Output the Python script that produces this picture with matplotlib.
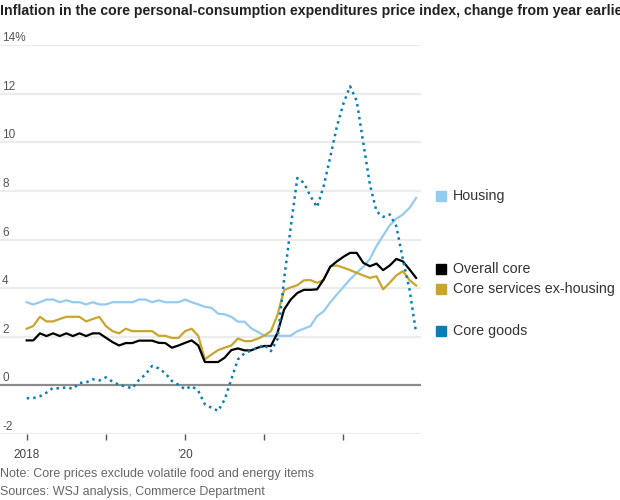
import matplotlib.pyplot as plt
from matplotlib.transforms import blended_transform_factory

# monthly, Jan 2018 - Dec 2022 (year-over-year % change)
months = list(range(60))

housing = [3.42, 3.33, 3.42, 3.53, 3.53, 3.42, 3.50, 3.42, 3.42, 3.33,
           3.42, 3.33, 3.33, 3.42, 3.42, 3.42, 3.42, 3.53, 3.53, 3.42,
           3.50, 3.42, 3.42, 3.42, 3.53, 3.42, 3.33, 3.23, 3.19, 2.95,
           2.92, 2.82, 2.62, 2.62, 2.35, 2.20, 2.04, 2.04, 2.04, 2.04,
           2.04, 2.23, 2.33, 2.44, 2.85, 3.05, 3.42, 3.74, 4.05, 4.36,
           4.63, 4.88, 5.20, 5.73, 6.16, 6.58, 6.85, 7.03, 7.30, 7.71]

overall_core = [1.85, 1.85, 2.14, 2.03, 2.14, 2.03, 2.14, 2.03, 2.14, 2.03,
                2.14, 2.14, 1.96, 1.78, 1.64, 1.74, 1.74, 1.84, 1.84, 1.84,
                1.75, 1.74, 1.55, 1.64, 1.75, 1.85, 1.64, 0.96, 0.96, 0.96,
                1.14, 1.45, 1.52, 1.44, 1.44, 1.55, 1.62, 1.62, 2.16, 3.12,
                3.53, 3.80, 3.93, 3.93, 3.95, 4.36, 4.88, 5.10, 5.29, 5.45,
                5.45, 5.04, 4.90, 5.01, 4.74, 4.93, 5.20, 5.10, 4.77, 4.42]

services_ex_housing = [2.33, 2.44, 2.82, 2.63, 2.63, 2.73, 2.82, 2.82, 2.82, 2.63,
                       2.73, 2.82, 2.44, 2.23, 2.14, 2.33, 2.23, 2.23, 2.23, 2.23,
                       2.04, 2.04, 1.95, 1.95, 2.23, 2.33, 2.03, 1.07, 1.27, 1.45,
                       1.55, 1.64, 1.93, 1.82, 1.82, 1.92, 2.05, 2.23, 2.90, 3.92,
                       4.03, 4.12, 4.32, 4.33, 4.22, 4.33, 4.90, 4.93, 4.84, 4.74,
                       4.63, 4.52, 4.42, 4.49, 3.95, 4.22, 4.52, 4.70, 4.33, 4.11]

core_goods = [-0.53, -0.52, -0.45, -0.30, -0.10, -0.13, -0.08, -0.14, 0.10, 0.12,
              0.25, 0.20, 0.33, 0.15, 0.02, -0.05, -0.12, 0.22, 0.45, 0.80,
              0.70, 0.50, 0.18, 0.02, -0.16, -0.03, -0.23, -0.78, -0.92, -1.05,
              -0.58, 0.25, 1.07, 1.32, 1.44, 1.55, 1.66, 1.41, 1.90, 4.36,
              6.50, 8.53, 8.33, 7.78, 7.33, 8.20, 9.40, 10.65, 11.60, 12.30,
              11.70, 9.97, 8.26, 7.16, 6.93, 7.03, 6.55, 5.18, 3.95, 2.16]

y_ticks = [-2, 0, 2, 4, 6, 8, 10, 12, 14]
y_tick_labels = ['-2', '0', '2', '4', '6', '8', '10', '12', '14%']
x_ticks = [0, 12, 24, 36, 48]
x_tick_labels = ['2018', '', '\u201920', '', '']

c_housing = '#95cbee'
c_core = '#000000'
c_services = '#c8a62e'
c_goods = '#0a7db5'

plt.rcParams['font.family'] = ['Liberation Sans', 'DejaVu Sans']

fig = plt.figure(figsize=(6.2, 5.0), dpi=100)
ax = fig.add_axes([0, 0.132, 421 / 620, 0.778])

ax.set_xlim(-26.7 / 6.6, (421 - 26.7) / 6.6)
ax.set_ylim(-2, 14)

# gridlines
for v in y_ticks:
    if v == 0:
        ax.axhline(v, color='#8c8c8c', lw=1.6, zorder=1)
    else:
        ax.axhline(v, color='#ececec', lw=1.6, zorder=0)

ax.plot(months, housing, color=c_housing, lw=1.6, zorder=3)
ax.plot(months, services_ex_housing, color=c_services, lw=1.6, zorder=4)
ax.plot(months, overall_core, color=c_core, lw=1.6, zorder=5)
ax.plot(months, core_goods, color=c_goods, lw=1.8, linestyle=(0, (1, 1.6)),
        dash_capstyle='butt', zorder=6)

for s in ax.spines.values():
    s.set_visible(False)
ax.set_yticks([])
ax.set_xticks(x_ticks)
ax.set_xticklabels(x_tick_labels, fontsize=8.5, color='#444444')
ax.tick_params(axis='x', length=4, width=1, color='#555555', pad=7)

# y labels sit above the gridlines, at the left edge
trans = blended_transform_factory(ax.transAxes, ax.transData)
for v, lab in zip(y_ticks, y_tick_labels):
    ax.text(0.005, v + 0.04, lab, transform=trans, ha='left', va='bottom',
            fontsize=8.5, color='#555555')

# legend labels on the right
legend_items = [('Housing', c_housing, 196),
                ('Overall core', c_core, 269),
                ('Core services ex-housing', c_services, 289),
                ('Core goods', c_goods, 331)]
for name, col, ypx in legend_items:
    fy = 1 - ypx / 500
    fig.patches.append(plt.Rectangle((436 / 620, fy - 5 / 500), 10 / 620, 10 / 500,
                                     transform=fig.transFigure, color=col))
    fig.text(453 / 620, fy, name, ha='left', va='center', fontsize=10.3,
             color='#333333')

fig.text(0, 1 - 11 / 500,
         'Inflation in the core personal-consumption expenditures price index, change from year earlier',
         ha='left', va='center', fontsize=10.2, fontweight='bold', color='#222222')
fig.text(0, 1 - 474 / 500, 'Note: Core prices exclude volatile food and energy items',
         ha='left', va='center', fontsize=9, color='#666666')
fig.text(0, 1 - 492 / 500, 'Sources: WSJ analysis, Commerce Department',
         ha='left', va='center', fontsize=9, color='#666666')

fig.savefig('out.png', dpi=100)
